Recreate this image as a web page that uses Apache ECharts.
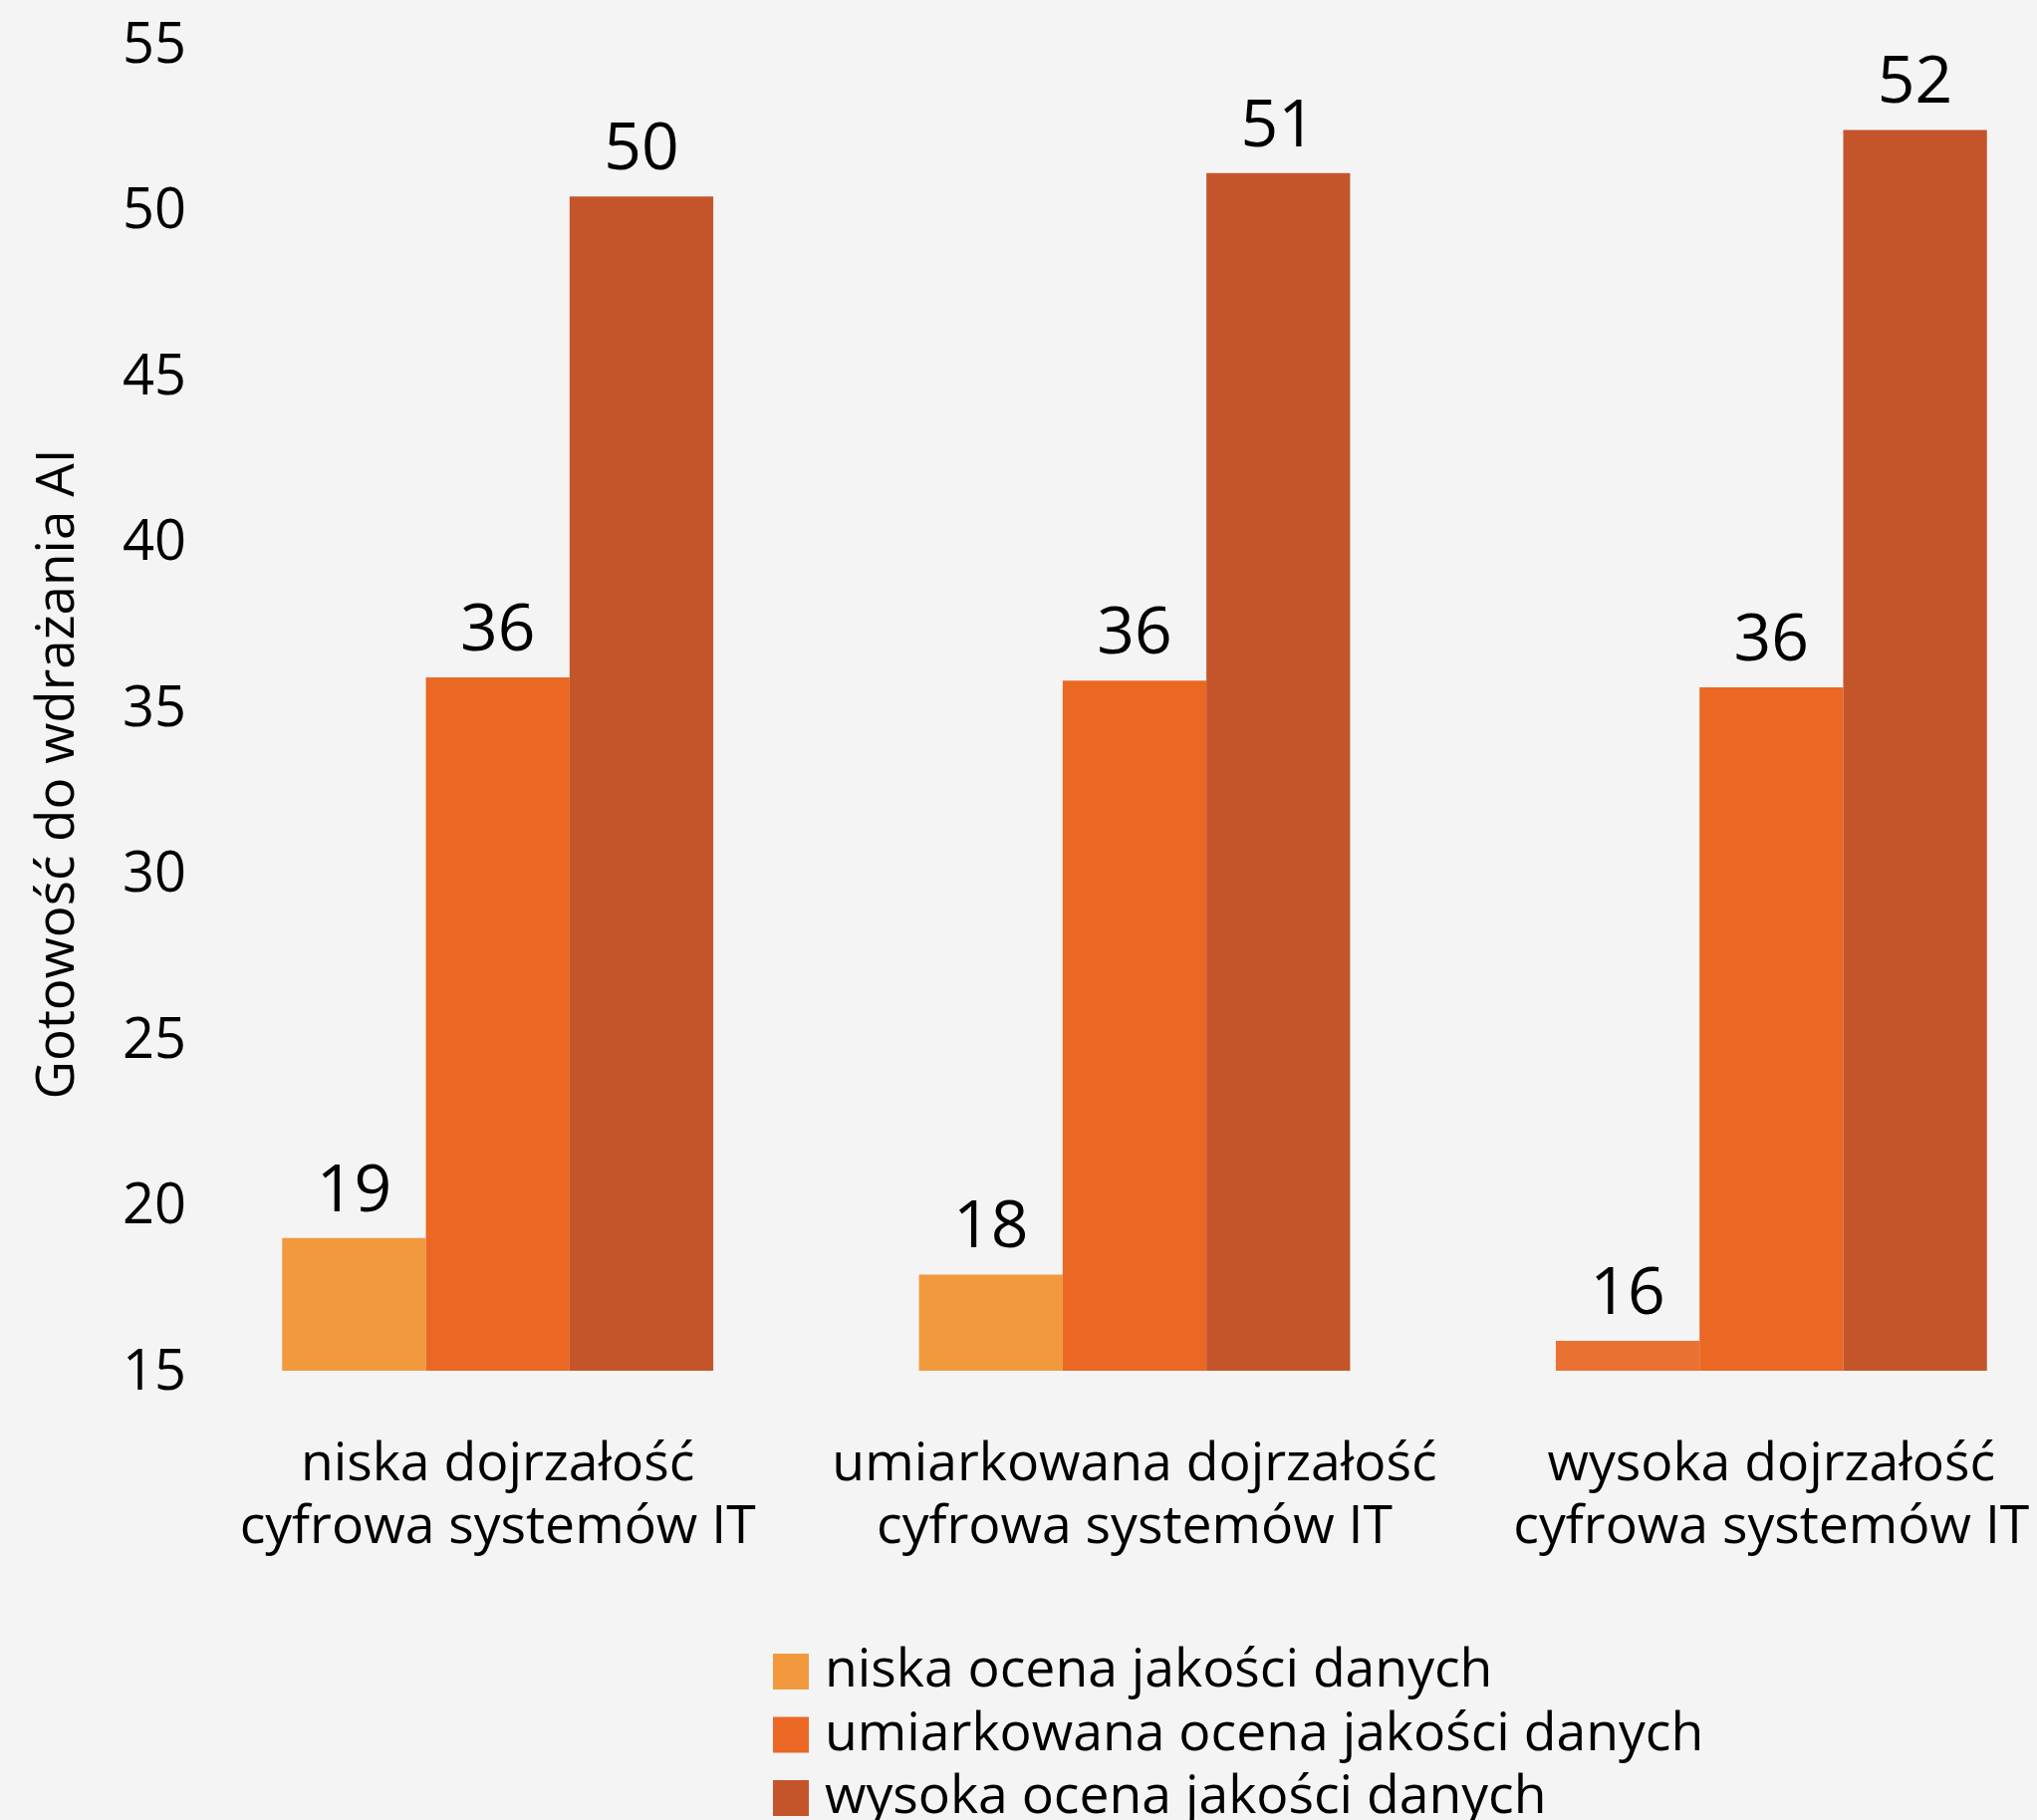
<!DOCTYPE html>
<html>
<head>
<meta charset="utf-8">
<script src="https://cdn.jsdelivr.net/npm/echarts@6/dist/echarts.min.js"></script>
<style>
  html, body { margin: 0; padding: 0; background: #F4F4F4; }
  #chart { width: 2045px; height: 1827px; }
</style>
</head>
<body>
<div id="chart"></div>
<script>
// Gotowość do wdrażania AI według dojrzałości cyfrowej systemów IT i oceny jakości danych
const categories = [
  'niska dojrzałość\ncyfrowa systemów IT',
  'umiarkowana dojrzałość\ncyfrowa systemów IT',
  'wysoka dojrzałość\ncyfrowa systemów IT'
];
const seriesNames = [
  'niska ocena jakości danych',
  'umiarkowana ocena jakości danych',
  'wysoka ocena jakości danych'
];
const lowQuality = [19.0, 17.9, 15.9];
const moderateQuality = [35.9, 35.8, 35.6];
const highQuality = [50.4, 51.1, 52.4];
const yTicks = { min: 15, max: 55, step: 5 };
const yTitle = 'Gotowość do wdrażania AI';

const FONT = '"Open Sans", "Noto Sans", sans-serif';
const colors = ['#F2993E', '#EA6824', '#C4552B'];

const chart = echarts.init(document.getElementById('chart'));

const valueLabel = {
  show: true,
  position: 'top',
  distance: 13,
  color: '#000',
  fontFamily: FONT,
  fontSize: 66,
  lineHeight: 66,
  formatter: p => String(Math.round(p.value))
};

function barSeries(name, values, color, dataMapper) {
  return {
    name,
    type: 'bar',
    barGap: 0,
    barCategoryGap: '32.3%',
    itemStyle: { color },
    label: valueLabel,
    data: dataMapper ? values.map(dataMapper) : values,
    emphasis: { disabled: true }
  };
}

chart.setOption({
  backgroundColor: '#F4F4F4',
  animation: false,
  textStyle: { fontFamily: FONT },
  // the plot band runs past the right edge of the canvas, so the last group sits close to it
  grid: {
    left: 180, width: 1918, top: 44, bottom: 451,
    containLabel: false,
    outerBoundsMode: 'none'
  },
  xAxis: {
    type: 'category',
    data: categories,
    axisLine: { show: false },
    axisTick: { show: false },
    axisLabel: {
      color: '#000',
      fontFamily: FONT,
      fontSize: 53.5,
      lineHeight: 63,
      margin: 63,
      interval: 0
    }
  },
  yAxis: {
    type: 'value',
    min: yTicks.min,
    max: yTicks.max,
    interval: yTicks.step,
    axisLine: { show: false },
    axisTick: { show: false },
    splitLine: { show: false },
    axisLabel: {
      color: '#000',
      fontFamily: FONT,
      fontSize: 56,
      align: 'right',
      verticalAlign: 'top',
      lineHeight: 6,
      margin: -7
    }
  },
  legend: {
    orient: 'vertical',
    left: 776,
    top: 1651,
    height: 400,
    padding: 0,
    itemWidth: 36,
    itemHeight: 36,
    itemGap: 9.5,
    icon: 'rect',
    selectedMode: false,
    textStyle: {
      color: '#000',
      fontFamily: FONT,
      fontSize: 53.5,
      lineHeight: 52,
      padding: [0, 0, 0, 11]
    },
    data: seriesNames
  },
  graphic: [{
    type: 'text',
    x: 59,
    y: 777,
    rotation: Math.PI / 2,
    style: {
      text: yTitle,
      fill: '#000',
      font: '53px ' + FONT,
      textAlign: 'center',
      textVerticalAlign: 'middle'
    }
  }],
  series: [
    barSeries(seriesNames[0], lowQuality, colors[0],
      (v, i) => i === 2 ? { value: v, itemStyle: { color: '#E97132' } } : v),
    barSeries(seriesNames[1], moderateQuality, colors[1]),
    barSeries(seriesNames[2], highQuality, colors[2])
  ]
});
</script>
</body>
</html>
